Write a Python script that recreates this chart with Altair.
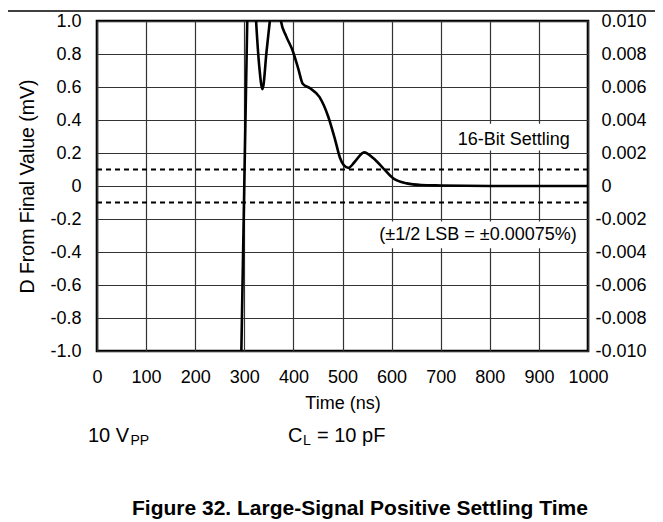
import altair as alt
import pandas as pd

# ---- data ----
time_ns = [280, 294, 306, 311, 318, 324, 330.6, 337, 345.5, 352, 360, 368, 374.6,
           385, 398.5, 410, 419, 434, 453, 471, 485, 495, 503, 512, 525, 544,
           563, 583, 603, 631, 660, 700, 800, 1000]
delta_mv = [-2.2, -1.0, 1.0, 1.5, 1.35, 1.0, 0.72, 0.586, 0.82, 1.0, 1.2, 1.15, 1.0,
            0.91, 0.82, 0.71, 0.62, 0.592, 0.54, 0.42, 0.28, 0.17, 0.125, 0.11,
            0.147, 0.204, 0.168, 0.107, 0.047, 0.016, 0.006, 0.003, 0.0, 0.0]

band_mv = [0.1, -0.1]
x_ticks = [0, 100, 200, 300, 400, 500, 600, 700, 800, 900, 1000]
y_ticks = [-1.0, -0.8, -0.6, -0.4, -0.2, 0.0, 0.2, 0.4, 0.6, 0.8, 1.0]

note_text = ["16-Bit Settling", "(±1/2 LSB = ±0.00075%)"]
note_x = [963, 977]
note_y = [0.248, -0.327]
box_x1 = [725, 572]
box_x2 = [970, 984]
box_y1 = [0.378, -0.215]
box_y2 = [0.215, -0.378]

FONT = "Liberation Sans"

xscale = alt.Scale(domain=[0, 1000], nice=False, zero=False)
yscale = alt.Scale(domain=[-1, 1], nice=False, zero=False)

x_axis = alt.Axis(values=x_ticks, grid=True, gridColor="#333333", gridWidth=1.2,
                  ticks=False, domain=False, labelFont=FONT, labelFontSize=18,
                  labelColor="black", labelPadding=17, labelOverlap=False,
                  labelFlush=False,
                  labelExpr="format(datum.value, 'd')", title="Time (ns)",
                  titleFont=FONT, titleFontSize=18, titleFontWeight="normal",
                  titleColor="black", titlePadding=8)

left_axis = alt.Axis(orient="left", values=y_ticks, grid=True, gridColor="#333333",
                     gridWidth=1.2, ticks=False, domain=False, labelFont=FONT,
                     labelFontSize=18, labelColor="black", labelPadding=16,
                     labelOverlap=False, labelFlush=False,
                     labelExpr="datum.value == 0 ? '0' : replace(format(datum.value, '.1f'), '\u2212', '-')",
                     title="D From Final Value (mV)", titleFont=FONT,
                     titleFontSize=19.5, titleFontWeight="normal", titleColor="black",
                     titlePadding=12)

right_axis = alt.Axis(orient="right", values=y_ticks, grid=False, ticks=False,
                      domain=False, labelFont=FONT, labelFontSize=18,
                      labelColor="black", labelOverlap=False, labelFlush=False,
                      labelPadding={"condition": {"test": "datum.value < 0", "value": 7},
                                    "value": 13},
                      labelExpr="datum.value == 0 ? '0' : replace(format(datum.value / 100, '.3f'), '\u2212', '-')",
                      title=None)

curve_df = pd.DataFrame({"t": time_ns, "v": delta_mv})
band_df = pd.DataFrame({"v": band_mv})
note_df = pd.DataFrame({"label": note_text, "t": note_x, "v": note_y})
box_df = pd.DataFrame({"t1": box_x1, "t2": box_x2, "v1": box_y1, "v2": box_y2})

boxes = alt.Chart(box_df).mark_rect(fill="white", strokeWidth=0).encode(
    x=alt.X("t1:Q", scale=xscale, axis=x_axis),
    x2="t2:Q",
    y=alt.Y("v1:Q", scale=yscale, axis=None),
    y2="v2:Q",
)

notes = alt.Chart(note_df).mark_text(font=FONT, fontSize=18, align="right",
                                     baseline="alphabetic", color="black").encode(
    x=alt.X("t:Q", scale=xscale, axis=x_axis),
    y=alt.Y("v:Q", scale=yscale, axis=None),
    text="label:N",
)

bands = alt.Chart(band_df).mark_rule(color="black", strokeWidth=2,
                                     strokeDash=[5, 4]).encode(
    y=alt.Y("v:Q", scale=yscale, axis=right_axis),
)

curve = alt.Chart(curve_df).mark_line(color="black", strokeWidth=2.6, clip=True,
                                      interpolate="monotone").encode(
    x=alt.X("t:Q", scale=xscale, axis=x_axis),
    y=alt.Y("v:Q", scale=yscale, axis=left_axis),
)

one = pd.DataFrame({"k": [0]})

top_rule = alt.Chart(one).mark_rule(color="black", strokeWidth=1.6).encode(
    x=alt.value(-97), x2=alt.value(566), y=alt.value(-10))


def label(txt, px, py, size, weight="normal"):
    return alt.Chart(pd.DataFrame({"s": [txt]})).mark_text(
        font=FONT, fontSize=size, fontWeight=weight, align="left",
        baseline="alphabetic", color="black").encode(
        x=alt.value(px), y=alt.value(py), text="s:N")


vpp = label("10 V", -9, 421, 20)
vpp_sub = label("PP", 33.5, 424, 14)
cl = label("C", 191, 421, 20)
cl_sub = label("L", 206, 424, 14)
cl_rest = label("= 10 pF", 220, 421, 20)
caption = label("Figure 32. Large-Signal Positive Settling Time", 35, 494, 21, "bold")

chart = alt.layer(
    curve, boxes, bands, notes, top_rule, vpp, vpp_sub, cl, cl_sub, cl_rest, caption
).resolve_axis(y="independent").properties(
    width=491, height=330,
    autosize=alt.AutoSizeParams(type="none"),
    padding={"left": 89, "top": 13, "right": 67, "bottom": 170},
).configure_view(stroke="black", strokeWidth=2.6)

chart.save("out.html", embed_options={"renderer": "svg", "actions": False})
